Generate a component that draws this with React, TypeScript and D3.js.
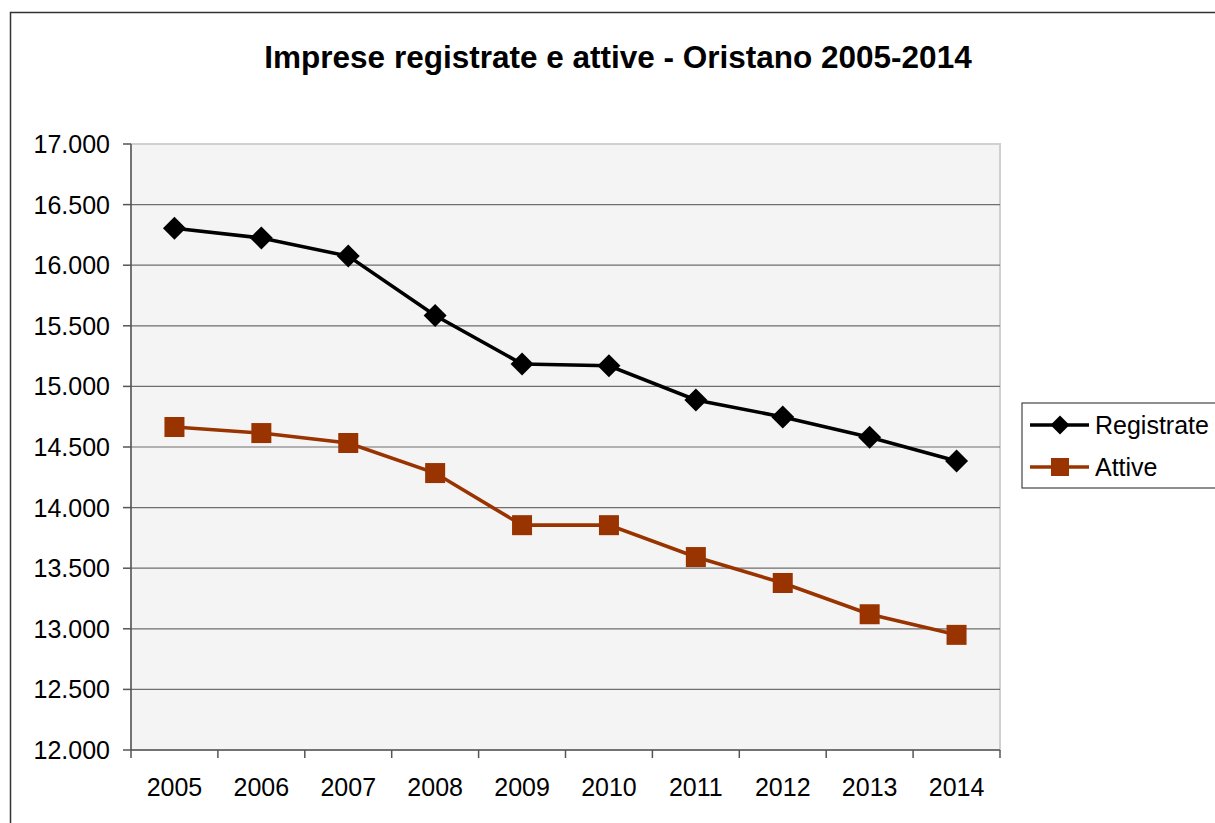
import React from "react";
import * as d3 from "d3";

const years = ["2005", "2006", "2007", "2008", "2009", "2010", "2011", "2012", "2013", "2014"];
const registrate = [16305, 16225, 16075, 15585, 15185, 15170, 14888, 14748, 14580, 14385];
const attive = [14665, 14615, 14533, 14285, 13855, 13855, 13592, 13378, 13120, 12950];
const yTicks = [12000, 12500, 13000, 13500, 14000, 14500, 15000, 15500, 16000, 16500, 17000];
const title = "Imprese registrate e attive - Oristano 2005-2014";
const seriesNames = ["Registrate", "Attive"];

const W = 1215, H = 823;
const PL = 131, PR = 1000, PT = 144, PB = 750;
const FONT = "'Liberation Sans', Arial, Helvetica, sans-serif";
const fmt = (v: number) => d3.format(",")(v).replace(/,/g, ".");

export default function App() {
  const x = d3.scaleBand<string>().domain(years).range([PL, PR]);
  const y = d3.scaleLinear().domain([12000, 17000]).range([PB, PT]);
  const cx = (yr: string) => (x(yr) as number) + x.bandwidth() / 2;
  const line = d3.line<number>().x((_, i) => cx(years[i])).y((d) => y(d));
  const diamond = (px: number, py: number, r: number) => `M${px},${py - r}L${px + r},${py}L${px},${py + r}L${px - r},${py}Z`;
  const brown = "#993300";

  return (
    <div style={{ position: "absolute", left: 0, top: 0 }}>
      <svg width={W} height={H} style={{ display: "block", fontFamily: FONT }}>
        <rect x={0} y={0} width={W} height={H} fill="#fff" />
        <rect x={10.5} y={12.5} width={W + 20} height={H + 20} fill="none" stroke="#333" strokeWidth={1.5} />
        <text x={618} y={68} textAnchor="middle" fontSize={31.5} fontWeight="bold" fill="#000">{title}</text>
        <rect x={PL} y={PT} width={PR - PL} height={PB - PT} fill="#f4f4f4" stroke="#d0d0d0" strokeWidth={2} />
        {yTicks.map((t) => (
          <g key={t}>
            {t !== 12000 && t !== 17000 && <line x1={PL} x2={PR} y1={y(t)} y2={y(t)} stroke="#6e6e6e" strokeWidth={1.2} />}
            <line x1={PL - 8} x2={PL} y1={y(t)} y2={y(t)} stroke="#555" strokeWidth={1.5} />
            <text x={PL - 21} y={y(t) + 9} textAnchor="end" fontSize={25} fill="#000">{fmt(t)}</text>
          </g>
        ))}
        <line x1={PL} x2={PL} y1={PT} y2={PB} stroke="#555" strokeWidth={1.5} />
        <line x1={PL} x2={PR} y1={PB} y2={PB} stroke="#555" strokeWidth={1.5} />
        {years.map((yr) => (
          <line key={"t" + yr} x1={x(yr)} x2={x(yr)} y1={PB} y2={PB + 8} stroke="#555" strokeWidth={1.5} />
        ))}
        <line x1={PR} x2={PR} y1={PB} y2={PB + 8} stroke="#555" strokeWidth={1.5} />
        {years.map((yr) => (
          <text key={"l" + yr} x={cx(yr)} y={796} textAnchor="middle" fontSize={25} fill="#000">{yr}</text>
        ))}
        <path d={line(registrate) || ""} fill="none" stroke="#000" strokeWidth={3.6} />
        {registrate.map((v, i) => (
          <path key={"r" + i} d={diamond(cx(years[i]), y(v), 11.5)} fill="#000" />
        ))}
        <path d={line(attive) || ""} fill="none" stroke={brown} strokeWidth={3.6} />
        {attive.map((v, i) => (
          <rect key={"a" + i} x={cx(years[i]) - 10} y={y(v) - 10} width={20} height={20} fill={brown} />
        ))}
        <rect x={1022} y={403} width={220} height={85} fill="#fff" stroke="#444" strokeWidth={1.2} />
        <line x1={1030} x2={1089} y1={425} y2={425} stroke="#000" strokeWidth={3.6} />
        <path d={diamond(1060, 425, 9.5)} fill="#000" />
        <text x={1095} y={434} fontSize={25} fill="#000">{seriesNames[0]}</text>
        <line x1={1030} x2={1089} y1={467} y2={467} stroke={brown} strokeWidth={3.6} />
        <rect x={1051} y={458} width={18} height={18} fill={brown} />
        <text x={1095} y={476} fontSize={25} fill="#000">{seriesNames[1]}</text>
      </svg>
    </div>
  );
}
